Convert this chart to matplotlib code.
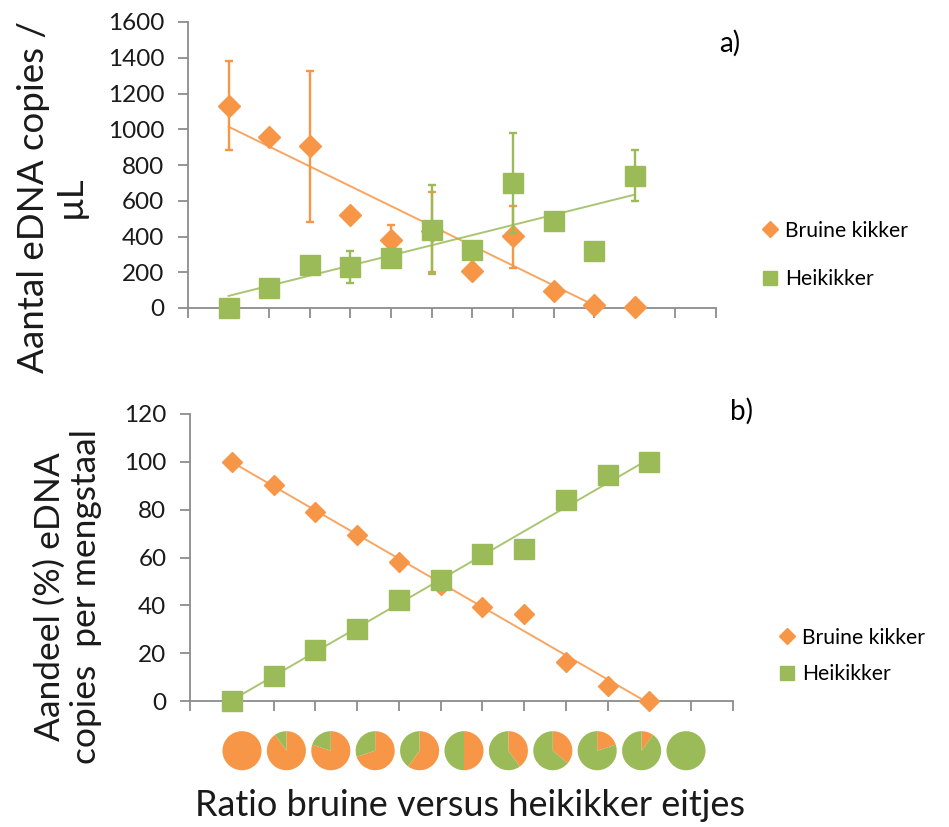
import numpy as np
import matplotlib.pyplot as plt
from matplotlib.lines import Line2D

plt.rcParams['font.family'] = ['Lato', 'DejaVu Sans']

ORANGE = "#F79646"
GREEN = "#9BBB59"
AXIS = "#8C8C8C"

# ---- data ----
x = np.arange(1, 12)

# a) eDNA copies / uL
bruine_a = [1128, 957, 905, 522, 382, 430, 205, 401, 97, 19, 6]
bruine_a_hi = [1380, 957, 1328, 522, 463, 649, 240, 569, 97, 19, 6]
bruine_a_lo = [882, 957, 479, 522, 300, 200, 170, 224, 97, 19, 6]
hei_a = [0, 112, 239, 228, 280, 438, 326, 700, 485, 317, 737]
hei_a_hi = [0, 112, 239, 321, 300, 690, 326, 979, 485, 317, 882]
hei_a_lo = [0, 112, 239, 140, 255, 192, 326, 420, 485, 317, 597]

# b) aandeel (%)
bruine_b = [100, 90.4, 79.2, 69.4, 58.2, 48.5, 39.1, 36.3, 16.3, 6.1, 0]
hei_b = [0, 10.3, 21.5, 30.3, 42.2, 50.8, 61.5, 63.6, 84, 94.5, 100]

# egg ratio pies (% bruine)
pie_bruine = [100, 90, 80, 70, 60, 50, 40, 36, 20, 10, 0]

labels = ["Bruine kikker", "Heikikker"]


def style_axis(ax, ymax, ystep):
    for s in ["top", "right"]:
        ax.spines[s].set_visible(False)
    for s in ["left", "bottom"]:
        ax.spines[s].set_color(AXIS)
        ax.spines[s].set_linewidth(1.3)
    ax.set_xlim(0, 13)
    ax.set_ylim(0, ymax)
    ax.set_xticks(np.arange(0, 14))
    ax.set_xticklabels([])
    ax.set_yticks(np.arange(0, ymax + 1, ystep))
    ax.tick_params(axis="both", direction="out", length=7, width=1.3,
                   color=AXIS, labelsize=17.5, labelcolor="#1a1a1a", pad=10)


def trend(ax, xs, ys, color):
    k, b = np.polyfit(xs, ys, 1)
    xx = np.array([xs[0], xs[-1]])
    ax.plot(xx, k * xx + b, color=color, lw=1.4, alpha=0.85, zorder=2)


fig = plt.figure(figsize=(9.49, 8.27), dpi=100)

# ---- (a) ----
ax1 = fig.add_axes([188 / 949, 1 - 308 / 827, 528 / 949, 286 / 827])
style_axis(ax1, 1600, 200)
trend(ax1, x, bruine_a, ORANGE)
trend(ax1, x, hei_a, GREEN)
ba = np.array(bruine_a)
ha = np.array(hei_a)
ax1.errorbar(x, ba, yerr=[ba - np.array(bruine_a_lo), np.array(bruine_a_hi) - ba],
             fmt="D", ms=10.7, color=ORANGE, ecolor=ORANGE, elinewidth=1.7,
             capsize=3.2, capthick=1.7, zorder=3, clip_on=False)
ax1.errorbar(x, ha, yerr=[ha - np.array(hei_a_lo), np.array(hei_a_hi) - ha],
             fmt="s", ms=15, color=GREEN, ecolor=GREEN, elinewidth=1.7,
             capsize=3.2, capthick=1.7, zorder=4, clip_on=False)
fig.text(730 / 949, 1 - 43 / 827, "a)", fontsize=20, ha="center", va="center")

h = [Line2D([], [], ls="", marker="D", ms=8, color=ORANGE),
     Line2D([], [], ls="", marker="s", ms=10, color=GREEN)]
ax1.legend(h, labels, loc="center left", bbox_to_anchor=(760 / 949, 1 - 255 / 827),
           bbox_transform=fig.transFigure, frameon=False, fontsize=15.2,
           handlelength=0.9, handletextpad=0.3, labelspacing=1.35,
           borderpad=0, borderaxespad=0)
fig.text(52 / 949, 1 - 197 / 827, "Aantal eDNA copies /\nµL", rotation=90,
         fontsize=26.5, ha="center", va="center", multialignment="center",
         linespacing=1.15, color="#1a1a1a")

# ---- (b) ----
ax2 = fig.add_axes([190 / 949, 1 - 701 / 827, 543 / 949, 287 / 827])
style_axis(ax2, 120, 20)
trend(ax2, x, bruine_b, ORANGE)
trend(ax2, x, hei_b, GREEN)
ax2.plot(x, bruine_b, ls="", marker="D", ms=10, color=ORANGE, zorder=3, clip_on=False)
ax2.plot(x, hei_b, ls="", marker="s", ms=14.4, color=GREEN, zorder=4, clip_on=False)
fig.text(742 / 949, 1 - 411 / 827, "b)", fontsize=20, ha="center", va="center")
ax2.legend(h, labels, loc="center left", bbox_to_anchor=(777 / 949, 1 - 656 / 827),
           bbox_transform=fig.transFigure, frameon=False, fontsize=15.2,
           handlelength=0.9, handletextpad=0.3, labelspacing=0.8,
           borderpad=0, borderaxespad=0)
fig.text(68 / 949, 1 - 597 / 827, "Aandeel (%) eDNA\ncopies  per mengstaal", rotation=90,
         fontsize=25.5, ha="center", va="center", multialignment="center",
         linespacing=1.15, color="#1a1a1a")

# ---- pies under the x axis ----
axp = fig.add_axes([219.8 / 949, 1 - 772.9 / 827, 488.4 / 949, 44.4 / 827])
for i, p in enumerate(pie_bruine):
    vals = [v for v in (p, 100 - p) if v > 0]
    cols = [c for v, c in zip((p, 100 - p), (ORANGE, GREEN)) if v > 0]
    axp.pie(vals, colors=cols, startangle=90, counterclock=False,
            center=(i + 1, 0), radius=0.44, frame=True,
            wedgeprops=dict(linewidth=0))
axp.set_xlim(0.5, 11.5)
axp.set_ylim(-0.5, 0.5)
axp.set_aspect("equal")
axp.axis("off")

fig.text(470 / 949, 1 - 805 / 827, "Ratio bruine versus heikikker eitjes",
         fontsize=26, ha="center", va="center", color="#1a1a1a")

plt.savefig("out.png", dpi=100)
